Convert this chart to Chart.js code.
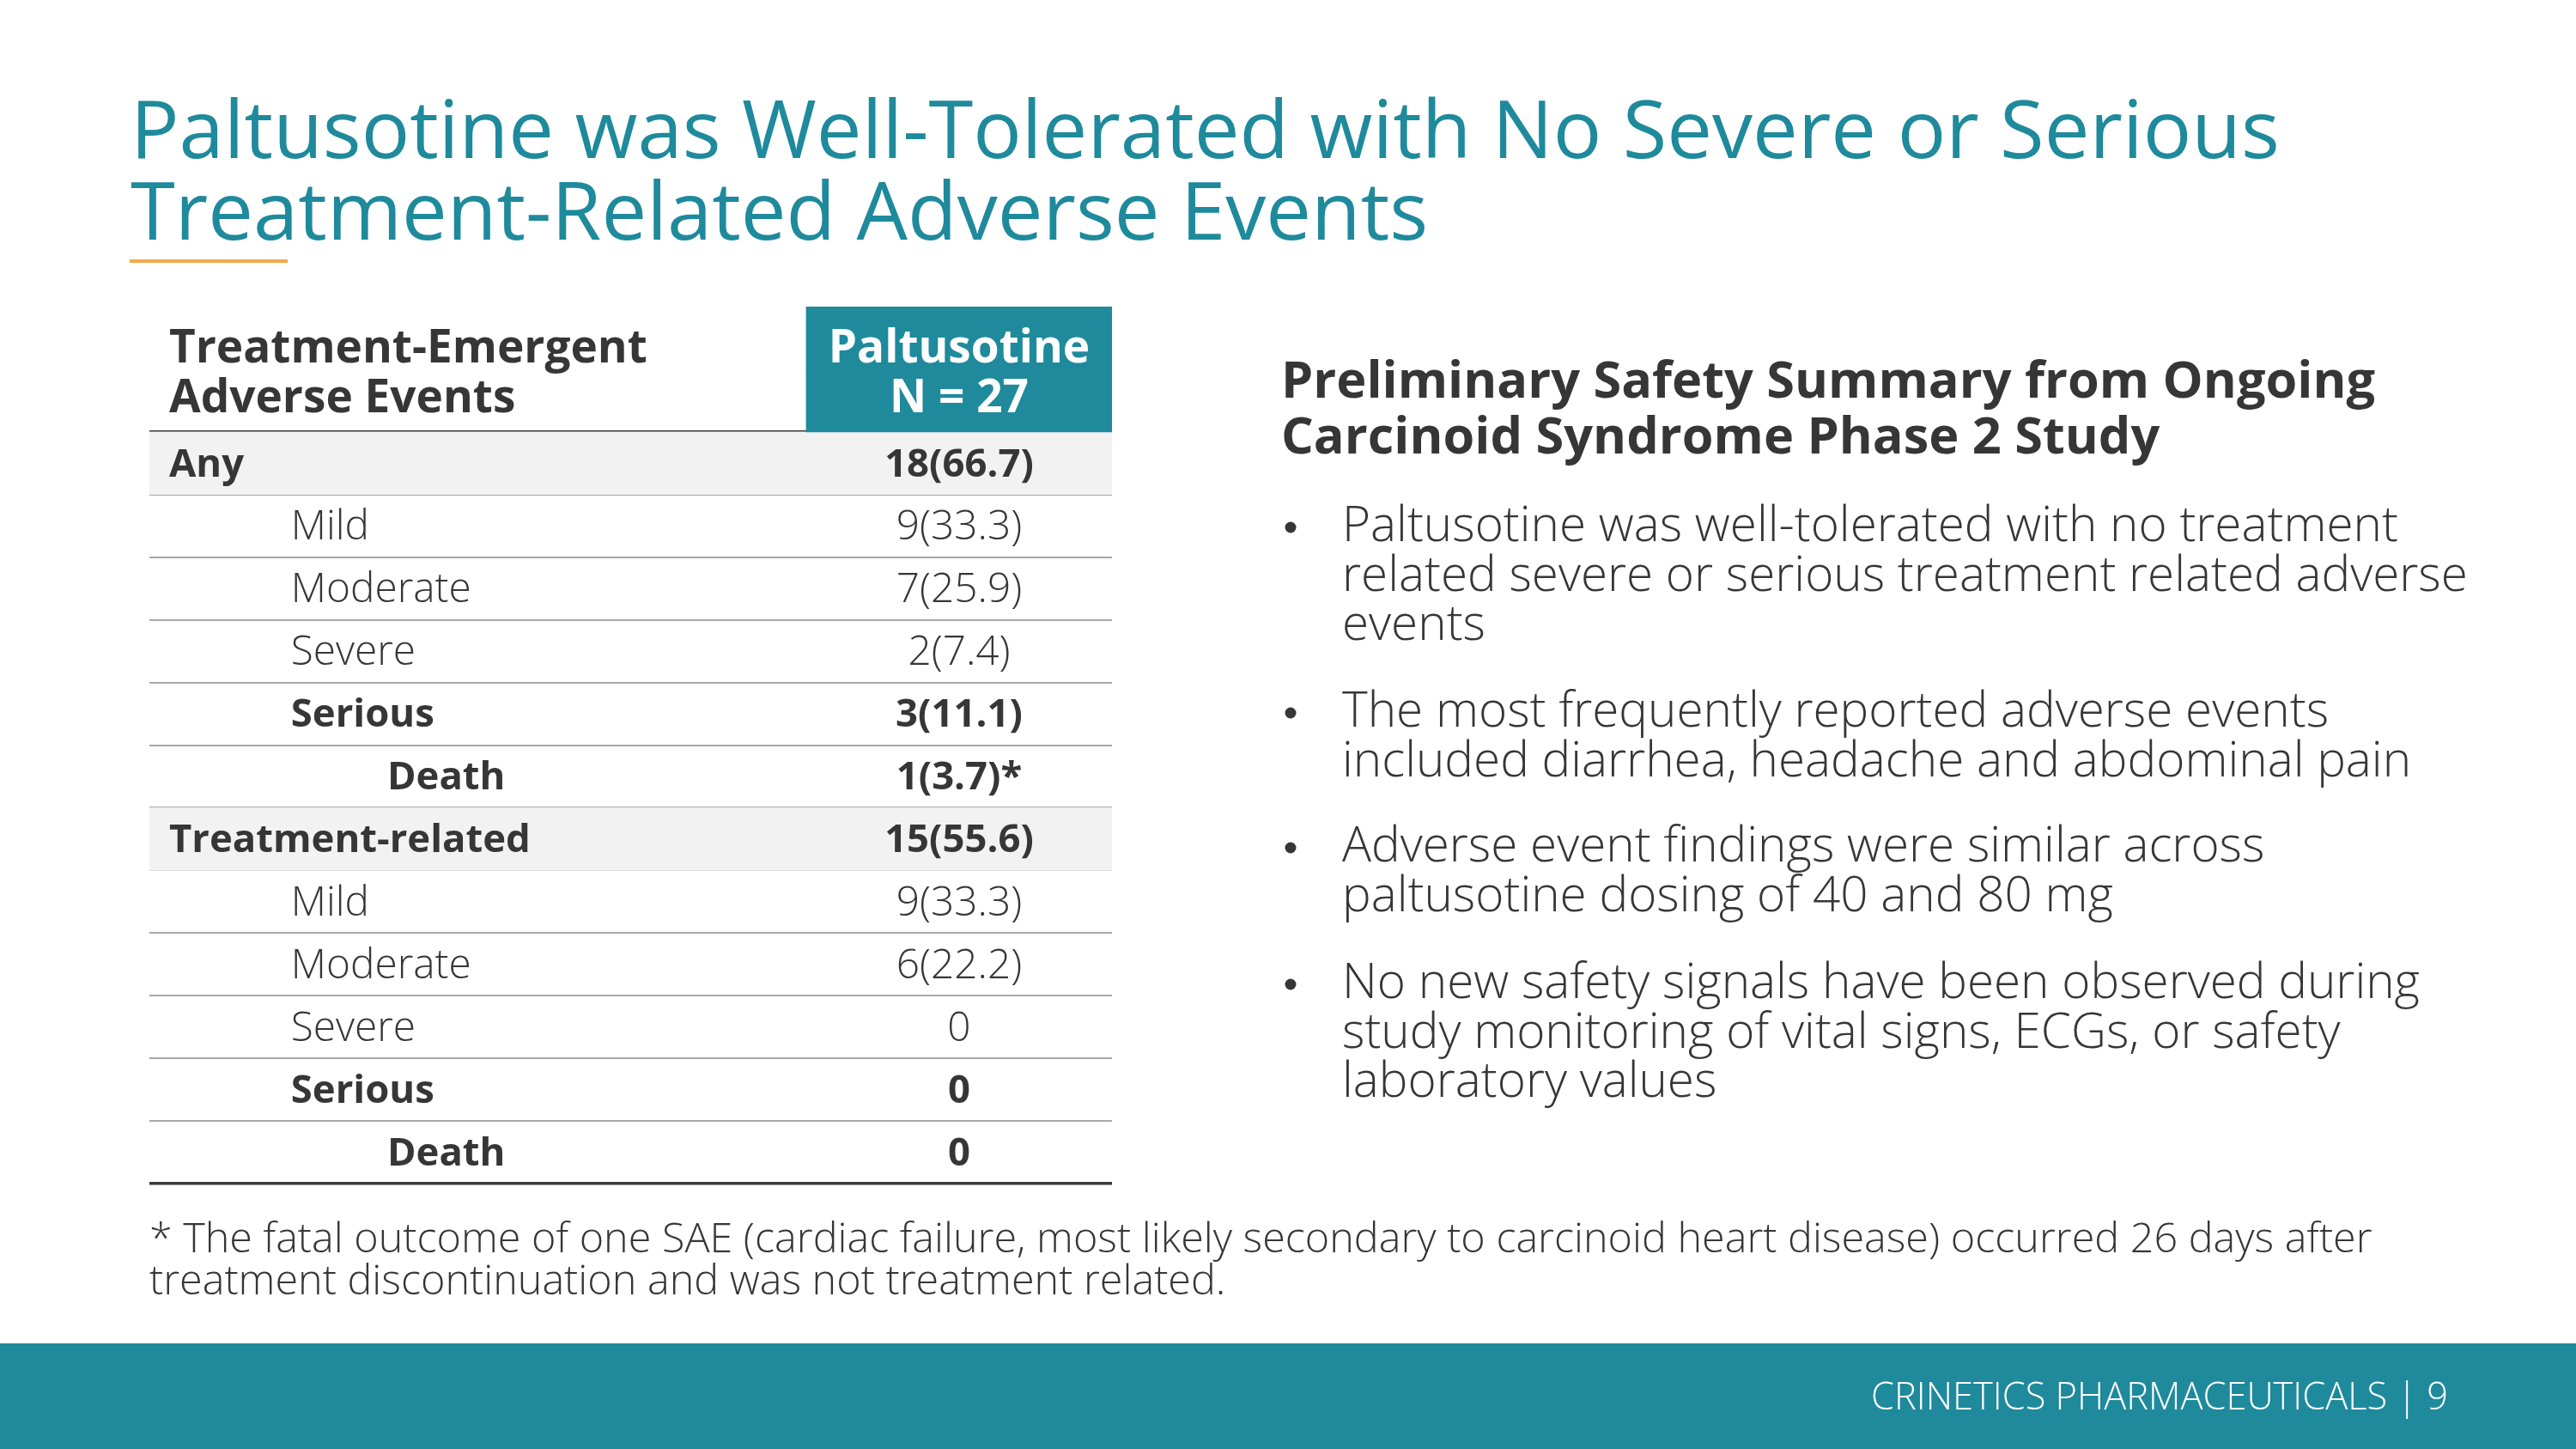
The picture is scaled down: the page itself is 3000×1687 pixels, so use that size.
<!DOCTYPE html>
<html>
<head>
<meta charset="utf-8">
<script src="https://cdn.jsdelivr.net/npm/chart.js@4.4.1/dist/chart.umd.min.js"></script>
<style>
  html, body { margin: 0; padding: 0; background: #ffffff; }
  #wrap { position: relative; width: 3000px; height: 1687px; overflow: hidden; background: #ffffff; }
  #c { position: absolute; left: 0; top: 0; width: 3000px; height: 1687px; }
  #s { position: absolute; left: 0; top: 0; font-family: "Open Sans", "Liberation Sans", sans-serif; }
</style>
</head>
<body>
<div id="wrap">
  <canvas id="c" width="3000" height="1687"></canvas>
  <svg id="s" xmlns="http://www.w3.org/2000/svg" width="3000" height="1687">
    <g id="title" font-weight="400" fill="#1E8A9C" font-size="88">
      <text x="152" y="184">Paltusotine was Well-Tolerated with No Severe or Serious</text>
      <text x="152" y="279">Treatment-Related Adverse Events</text>
    </g>
    <rect x="151" y="302" width="184" height="4" fill="#F2A94E"/>

    <g id="heading" font-weight="700" fill="#363636" font-size="52">
      <text x="1492" y="463">Preliminary Safety Summary from Ongoing</text>
      <text x="1492" y="528">Carcinoid Syndrome Phase 2 Study</text>
    </g>

    <g id="bullets" font-weight="300" fill="#363636" font-size="48">
      <text x="1563" y="630">Paltusotine was well-tolerated with no treatment</text>
      <text x="1563" y="688">related severe or serious treatment related adverse</text>
      <text x="1563" y="745">events</text>
      <text x="1563" y="846">The most frequently reported adverse events</text>
      <text x="1563" y="904">included diarrhea, headache and abdominal pain</text>
      <text x="1563" y="1003">Adverse event findings were similar across</text>
      <text x="1563" y="1061">paltusotine dosing of 40 and 80 mg</text>
      <text x="1563" y="1162">No new safety signals have been observed during</text>
      <text x="1563" y="1220">study monitoring of vital signs, ECGs, or safety</text>
      <text x="1563" y="1277">laboratory values</text>
    </g>
    <g id="dots" fill="#363636">
      <circle cx="1503" cy="614" r="6.5"/>
      <circle cx="1503" cy="830" r="6.5"/>
      <circle cx="1503" cy="987" r="6.5"/>
      <circle cx="1503" cy="1146" r="6.5"/>
    </g>

    <g id="foot" font-weight="300" fill="#363636" font-size="44">
      <text x="174" y="1458">* The fatal outcome of one SAE (cardiac failure, most likely secondary to carcinoid heart disease) occurred 26 days after</text>
      <text x="174" y="1507">treatment discontinuation and was not treatment related.</text>
    </g>

    <rect x="0" y="1564" width="3000" height="123" fill="#1E8A9C"/>
    <g id="footer" font-weight="300" fill="#ffffff" font-size="38">
      <text x="2851" y="1641" text-anchor="end">CRINETICS PHARMACEUTICALS | 9</text>
    </g>
  </svg>
</div>
<script>
// ---------------- DATA ----------------
const rowLabels = ["Any", "Mild", "Moderate", "Severe", "Serious", "Death",
                   "Treatment-related", "Mild", "Moderate", "Severe", "Serious", "Death"];
const counts    = [18, 9, 7, 2, 3, 1, 15, 9, 6, 0, 0, 0];
const percents  = [66.7, 33.3, 25.9, 7.4, 11.1, 3.7, 55.6, 33.3, 22.2, null, null, null];
const footMarks = ["", "", "", "", "", "*", "", "", "", "", "", ""];
const rowLevels = [0, 1, 1, 1, 1, 2, 0, 1, 1, 1, 1, 2];
const boldRows  = [true, false, false, false, true, true, true, false, false, false, true, true];
const shadedRows = [true, false, false, false, false, false, true, false, false, false, false, false];
const headerLeft  = ["Treatment-Emergent", "Adverse Events"];
const headerRight = ["Paltusotine", "N = 27"];

// ---------------- STYLE ----------------
const TEAL = "#1E8A9C";
const TEXT = "#363636";
const FONT = '"Open Sans", "Liberation Sans", sans-serif';
const SPLIT = 0.6824;               // start of value column on x (0..1)
const INDENT = [0.0205, 0.147, 0.247];

function fitGroup(id, target) {
  const g = document.getElementById(id);
  const t = g.querySelector('text');
  const w = t.getComputedTextLength();
  const fs = parseFloat(g.getAttribute('font-size'));
  if (w > 0) g.setAttribute('font-size', (fs * target / w).toFixed(2));
}

function fitSize(ctx, text, weight, target) {
  ctx.font = weight + ' 100px ' + FONT;
  const w = ctx.measureText(text).width;
  return 100 * target / w;
}

function fmtValue(i) {
  return counts[i] + (percents[i] !== null ? '(' + percents[i].toFixed(1) + ')' : '') + footMarks[i];
}

const tablePlugin = {
  id: 'tableText',
  afterDraw(chart) {
    const ctx = chart.ctx;
    const x = chart.scales.x, y = chart.scales.y;
    const rowH = y.getPixelForValue(3) - y.getPixelForValue(2);
    const headSize = fitSize(ctx, headerLeft[0], '700', 557);
    const boldSize = fitSize(ctx, 'Treatment-related', '700', 421);
    const lightSize = fitSize(ctx, 'Moderate', '300', 210);
    ctx.save();
    ctx.textBaseline = 'alphabetic';
    // header
    const hc = (y.getPixelForValue(0) + y.getPixelForValue(1)) / 2;
    const hb = [hc - 0.11 * rowH, hc + 0.685 * rowH];
    ctx.font = '700 ' + headSize + 'px ' + FONT;
    ctx.fillStyle = TEXT;
    ctx.textAlign = 'left';
    headerLeft.forEach((s, k) => ctx.fillText(s, x.getPixelForValue(INDENT[0]), hb[k]));
    ctx.fillStyle = '#ffffff';
    ctx.textAlign = 'center';
    const vc = x.getPixelForValue((SPLIT + 1) / 2);
    headerRight.forEach((s, k) => ctx.fillText(s, vc, hb[k]));
    // rows
    rowLabels.forEach((lab, i) => {
      const yc = y.getPixelForValue(i + 2);
      const bold = boldRows[i];
      const fs = bold ? boldSize : lightSize;
      ctx.font = (bold ? '700 ' : '300 ') + fs + 'px ' + FONT;
      ctx.fillStyle = TEXT;
      ctx.textAlign = 'left';
      ctx.fillText(lab, x.getPixelForValue(INDENT[rowLevels[i]]), yc + 0.34 * fs);
      ctx.textAlign = 'center';
      ctx.fillText(fmtValue(i), vc, yc + 0.34 * fs);
    });
    ctx.restore();
  }
};

function build() {
  fitGroup('title', 2503);
  fitGroup('heading', 1274);
  fitGroup('bullets', 1230);
  fitGroup('foot', 2589);
  fitGroup('footer', 672);

  const labels = ["", " "].concat(rowLabels);
  const headerData = labels.map((_, i) => i < 2 ? [SPLIT, 1] : null);
  const shadeData = [null, null].concat(shadedRows.map(s => s ? [0, 1] : null));
  const nLines = labels.length + 1;
  const isThick = c => c.index === undefined || c.index === 2 || c.index === nLines - 1;

  new Chart(document.getElementById('c'), {
    type: 'bar',
    data: {
      labels: labels,
      datasets: [
        { label: 'header', data: headerData, backgroundColor: TEAL, borderWidth: 0,
          barPercentage: 1, categoryPercentage: 1, grouped: false },
        { label: 'shade', data: shadeData, backgroundColor: '#F2F2F2', borderWidth: 0,
          barPercentage: 1, categoryPercentage: 1, grouped: false }
      ]
    },
    options: {
      indexAxis: 'y',
      responsive: false,
      animation: false,
      events: [],
      layout: { padding: { left: 174, right: 1705, top: 357, bottom: 309 } },
      plugins: { legend: { display: false }, tooltip: { enabled: false }, title: { display: false } },
      scales: {
        x: { type: 'linear', min: 0, max: 1, display: false },
        y: {
          type: 'category', offset: true, z: 1,
          ticks: { display: false },
          border: { display: false },
          grid: {
            offset: true, drawTicks: false,
            color: c => (c.index !== undefined && c.index < 2) ? 'rgba(0,0,0,0)' : (isThick(c) ? '#3A3A3A' : '#A8A8A8'),
            lineWidth: c => (c.index !== undefined && c.index < 2) ? 0 : (isThick(c) ? 3.5 : 2)
          }
        }
      }
    },
    plugins: [tablePlugin]
  });
}

const loads = ['300', '400', '700'].map(w => document.fonts.load(w + ' 40px "Open Sans"'));
Promise.all(loads).catch(() => {}).then(build);
</script>
</body>
</html>
